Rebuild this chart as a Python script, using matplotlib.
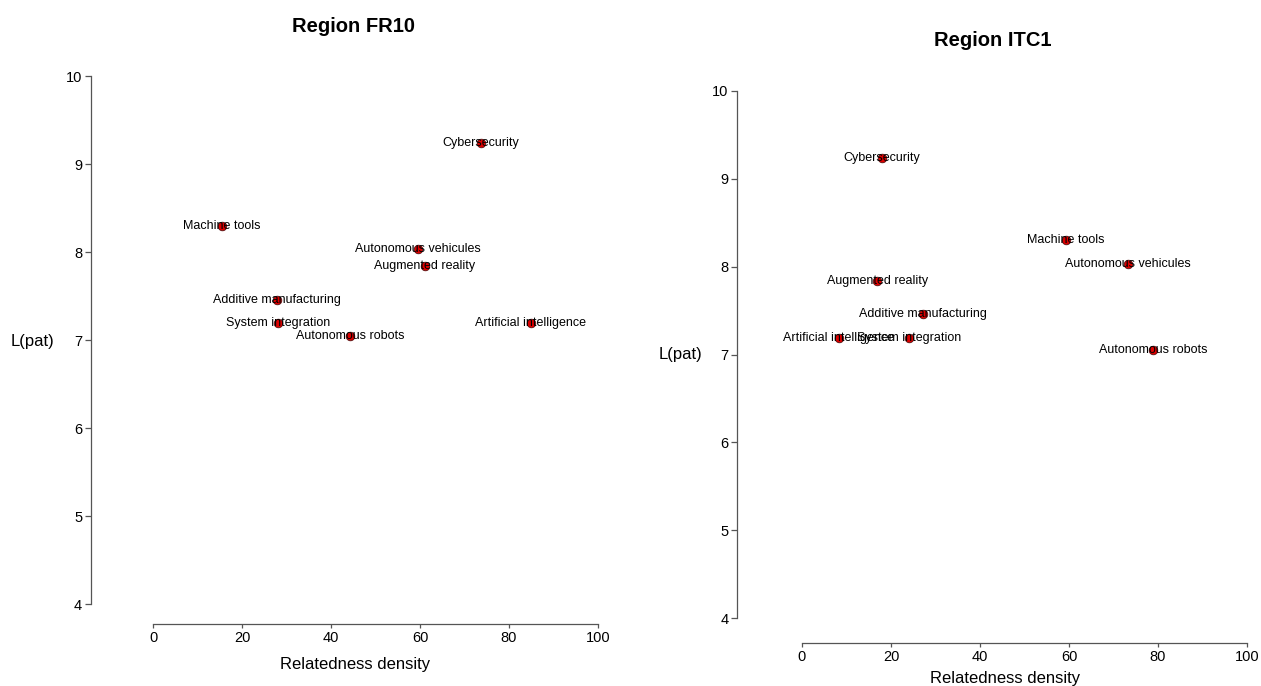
import matplotlib
matplotlib.use("Agg")
import matplotlib.pyplot as plt

plt.rcParams['font.family'] = ['Liberation Sans', 'DejaVu Sans']

# technologies and their L(pat) values (same in both regions)
techs = ["Cybersecurity", "Machine tools", "Autonomous vehicules", "Augmented reality",
         "Additive manufacturing", "System integration", "Autonomous robots",
         "Artificial intelligence"]
lpat = [9.24, 8.30, 8.03, 7.84, 7.46, 7.19, 7.05, 7.19]

# relatedness density per region
dens_fr10 = [73.7, 15.5, 59.6, 61.1, 27.9, 28.1, 44.3, 84.9]
dens_itc1 = [18.0, 59.3, 73.3, 16.9, 27.2, 24.0, 78.9, 8.3]

xticks = [0, 20, 40, 60, 80, 100]
yticks = [4, 5, 6, 7, 8, 9, 10]

W, H = 1261, 686
fig = plt.figure(figsize=(W / 100, H / 100), dpi=100)


def panel(rect, dens, title, title_xy, ylab_xy, xlab_xy, left_off, bottom_off):
    ax = fig.add_axes(rect)
    ax.set_xlim(0, 100)
    ax.set_ylim(4, 10)
    ax.scatter(dens, lpat, s=38, color="#dd0000", edgecolor="#551111",
               linewidth=0.6, zorder=2, clip_on=False)
    for t, x, y in zip(techs, dens, lpat):
        ax.text(x, y, t, ha="center", va="center", fontsize=9, zorder=3)
    for s in ["top", "right"]:
        ax.spines[s].set_visible(False)
    ax.spines["left"].set_position(("outward", left_off))
    ax.spines["bottom"].set_position(("outward", bottom_off))
    for s in ["left", "bottom"]:
        ax.spines[s].set_color("#555555")
        ax.spines[s].set_linewidth(0.9)
    ax.set_xticks(xticks)
    ax.set_yticks(yticks)
    ax.tick_params(labelsize=10.5, color="#555555", width=0.9)
    ax.tick_params(axis="x", length=3, pad=2)
    ax.tick_params(axis="y", length=4, pad=2)
    fig.text(title_xy[0] / W, 1 - title_xy[1] / H, title, ha="center", va="center",
             fontsize=14.5, fontweight="bold")
    fig.text(ylab_xy[0] / W, 1 - ylab_xy[1] / H, "L(pat)", ha="center", va="center",
             fontsize=12)
    fig.text(xlab_xy[0] / W, 1 - xlab_xy[1] / H, "Relatedness density", ha="center",
             va="center", fontsize=12)
    return ax


panel([153 / W, 1 - 604 / H, 445 / W, 528 / H], dens_fr10, "Region FR10",
      (354, 27), (32, 342), (355, 664), 45, 14.4)
panel([802 / W, 1 - 618 / H, 445 / W, 527 / H], dens_itc1, "Region ITC1",
      (993, 41), (680, 354), (1005, 679), 47, 18)

fig.savefig("out.png", dpi=100, facecolor="white")
